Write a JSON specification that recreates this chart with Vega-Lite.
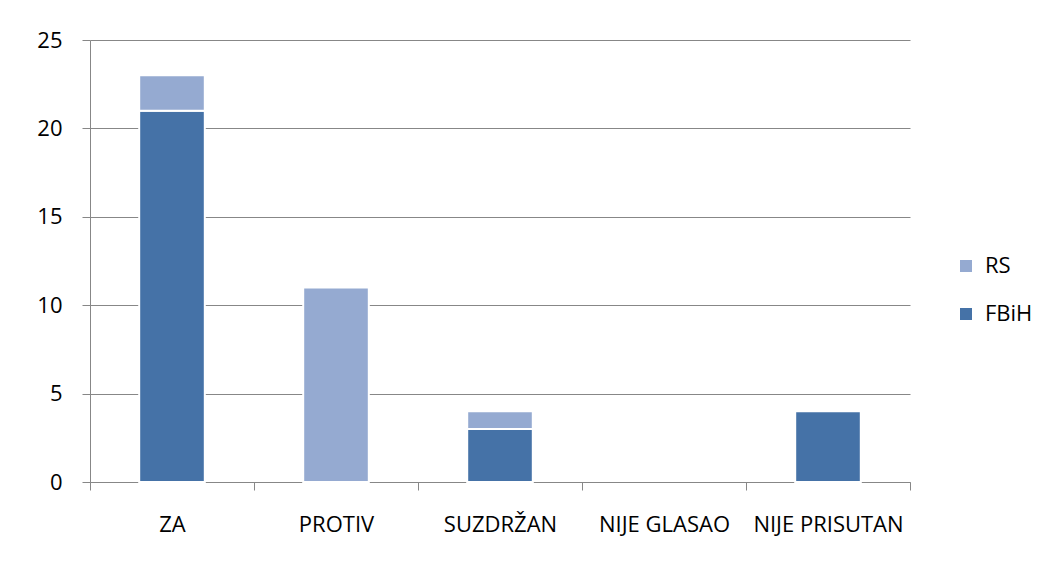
{
  "$schema": "https://vega.github.io/schema/vega-lite/v6.json",
  "width": 820,
  "height": 442,
  "autosize": {"type": "none"},
  "padding": {"left": 90, "top": 40, "right": 138, "bottom": 83},
  "background": "white",
  "data": {
    "values": [
      {"glas": "ZA", "entitet": "FBiH", "broj": 21},
      {"glas": "ZA", "entitet": "RS", "broj": 2},
      {"glas": "PROTIV", "entitet": "RS", "broj": 11},
      {"glas": "SUZDRŽAN", "entitet": "FBiH", "broj": 3},
      {"glas": "SUZDRŽAN", "entitet": "RS", "broj": 1},
      {"glas": "NIJE PRISUTAN", "entitet": "FBiH", "broj": 4}
    ]
  },
  "mark": {"type": "bar", "stroke": "white", "strokeWidth": 2, "width": {"band": 0.4}},
  "encoding": {
    "x": {
      "field": "glas",
      "type": "nominal",
      "title": null,
      "sort": null,
      "scale": {
        "domain": ["ZA", "PROTIV", "SUZDRŽAN", "NIJE GLASAO", "NIJE PRISUTAN"],
        "paddingInner": 0,
        "paddingOuter": 0
      },
      "axis": {
        "labelAngle": 0,
        "tickBand": "extent",
        "tickSize": 8,
        "labelPadding": 24,
        "domainColor": "#878787",
        "tickColor": "#878787",
        "labelFont": "Open Sans",
        "labelFontSize": 22,
        "labelColor": "black",
        "grid": false
      }
    },
    "y": {
      "field": "broj",
      "type": "quantitative",
      "title": null,
      "stack": "zero",
      "scale": {"domain": [0, 25], "nice": false},
      "axis": {
        "values": [0, 5, 10, 15, 20, 25],
        "tickSize": 8,
        "labelPadding": 20,
        "domainColor": "#878787",
        "tickColor": "#878787",
        "gridColor": "#878787",
        "labelFont": "Open Sans",
        "labelFontSize": 22,
        "labelColor": "black",
        "grid": true
      }
    },
    "order": {"field": "entitet", "sort": "ascending"},
    "color": {
      "field": "entitet",
      "type": "nominal",
      "title": null,
      "scale": {"domain": ["RS", "FBiH"], "range": ["#95AAD1", "#4572A7"]},
      "legend": {
        "orient": "none",
        "legendX": 865,
        "legendY": 215,
        "symbolType": "square",
        "symbolSize": 144,
        "symbolStrokeWidth": 0,
        "labelFont": "Open Sans",
        "labelFontSize": 22,
        "labelColor": "black",
        "labelOffset": 8,
        "rowPadding": 26,
        "padding": 0
      }
    }
  },
  "config": {"view": {"stroke": null}}
}
